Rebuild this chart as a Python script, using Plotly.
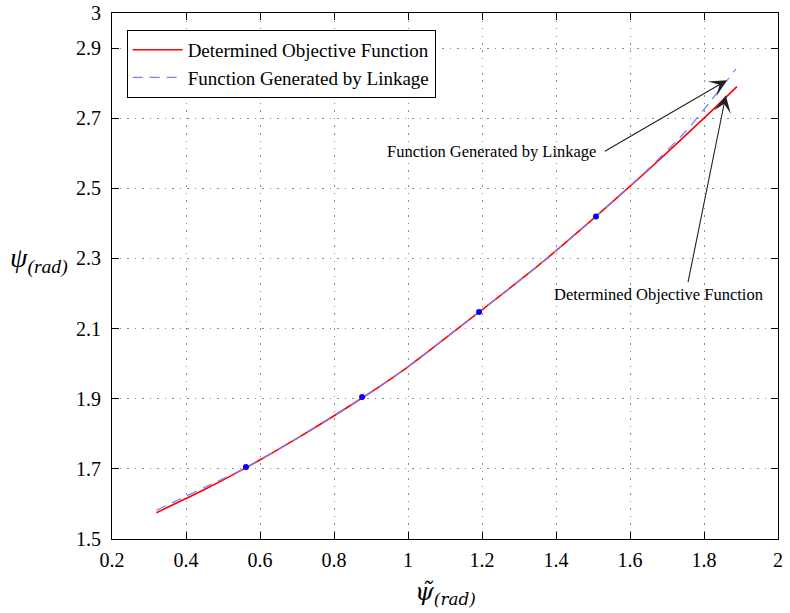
import plotly.graph_objects as go

# Input angle (rad) and output angle (rad)
x_obj = [0.32, 0.45, 0.565, 0.70, 0.88, 1.00, 1.192, 1.35, 1.508, 1.65, 1.80, 1.889]
y_obj = [1.575, 1.641, 1.705, 1.787, 1.905, 1.991, 2.147, 2.278, 2.420, 2.553, 2.700, 2.790]

x_link = [0.32, 0.45, 0.565, 0.70, 0.88, 1.00, 1.192, 1.35, 1.508, 1.65, 1.75, 1.80, 1.886]
y_link = [1.582, 1.647, 1.705, 1.787, 1.905, 1.991, 2.147, 2.278, 2.420, 2.556, 2.662, 2.725, 2.840]

# Precision points
x_prec = [0.562, 0.876, 1.192, 1.508]
y_prec = [1.705, 1.905, 2.147, 2.420]

x_ticks = [0.2, 0.4, 0.6, 0.8, 1.0, 1.2, 1.4, 1.6, 1.8, 2.0]
x_tick_text = ["0.2", "0.4", "0.6", "0.8", "1", "1.2", "1.4", "1.6", "1.8", "2"]
y_ticks = [1.5, 1.7, 1.9, 2.1, 2.3, 2.5, 2.7, 2.9, 3.0]
y_tick_text = ["1.5", "1.7", "1.9", "2.1", "2.3", "2.5", "2.7", "2.9", "3"]

SERIF = "Liberation Serif"

fig = go.Figure()
fig.add_trace(go.Scatter(x=x_obj, y=y_obj, mode="lines", name="Determined Objective Function",
                         line=dict(color="#ff0000", width=1.6, shape="spline", smoothing=0.6)))
fig.add_trace(go.Scatter(x=x_link, y=y_link, mode="lines", name="Function Generated by Linkage",
                         line=dict(color="#7c80ff", width=1.3, dash="10px,7px",
                                   shape="spline", smoothing=0.6)))
fig.add_trace(go.Scatter(x=x_prec, y=y_prec, mode="markers", showlegend=False,
                         marker=dict(color="#0000ff", size=6)))

axis_common = dict(showline=True, linecolor="black", linewidth=1, mirror="ticks",
                   ticks="inside", ticklen=7, tickcolor="black", automargin=False,
                   showgrid=True, gridcolor="#8c8c8c", griddash="1.5px,6px", gridwidth=1.2,
                   zeroline=False, tickfont=dict(family=SERIF, size=20, color="black"))

fig.update_xaxes(range=[0.2, 2.0], tickvals=x_ticks, ticktext=x_tick_text, ticklabelstandoff=3,
                 **axis_common)
fig.update_yaxes(range=[1.5, 3.0], tickvals=y_ticks, ticktext=y_tick_text, ticklabelstandoff=6,
                 **axis_common)

# Axis titles
fig.add_annotation(xref="paper", yref="paper", x=0.5, y=-0.103, yanchor="middle", showarrow=False,
                   text="<i>ψ̃</i><sub><i>(rad)</i></sub>",
                   font=dict(family="DejaVu Serif", size=24, color="black"))
fig.add_annotation(xref="paper", yref="paper", x=-0.156, y=0.53, xanchor="left", showarrow=False,
                   text="<i>ψ</i><sub><i>(rad)</i></sub>",
                   font=dict(family=SERIF, size=28, color="black"))

# Callout labels and arrows
fig.add_annotation(x=1.227, y=2.605, text="Function Generated by Linkage", showarrow=False,
                   font=dict(family=SERIF, size=16.5, color="black"))
fig.add_annotation(x=1.862, y=2.808, ax=1.528, ay=2.603, axref="x", ayref="y", text="",
                   showarrow=True, arrowhead=3, arrowsize=2.6, arrowwidth=1.1, arrowcolor="#222")
fig.add_annotation(x=1.676, y=2.197, text="Determined Objective Function", showarrow=False,
                   font=dict(family=SERIF, size=16.5, color="black"))
fig.add_annotation(x=1.859, y=2.765, ax=1.756, ay=2.228, axref="x", ayref="y", text="",
                   showarrow=True, arrowhead=3, arrowsize=2.6, arrowwidth=1.1, arrowcolor="#222")

fig.update_layout(
    width=790, height=613,
    margin=dict(l=112, r=12, t=13, b=74),
    plot_bgcolor="white", paper_bgcolor="white",
    font=dict(family=SERIF, color="black"),
    legend=dict(x=0.022, y=0.968, xanchor="left", yanchor="top",
                bgcolor="white", bordercolor="black", borderwidth=1,
                font=dict(family=SERIF, size=19, color="black"),
                tracegroupgap=0, itemwidth=50),
)

fig.write_html("out.html")
